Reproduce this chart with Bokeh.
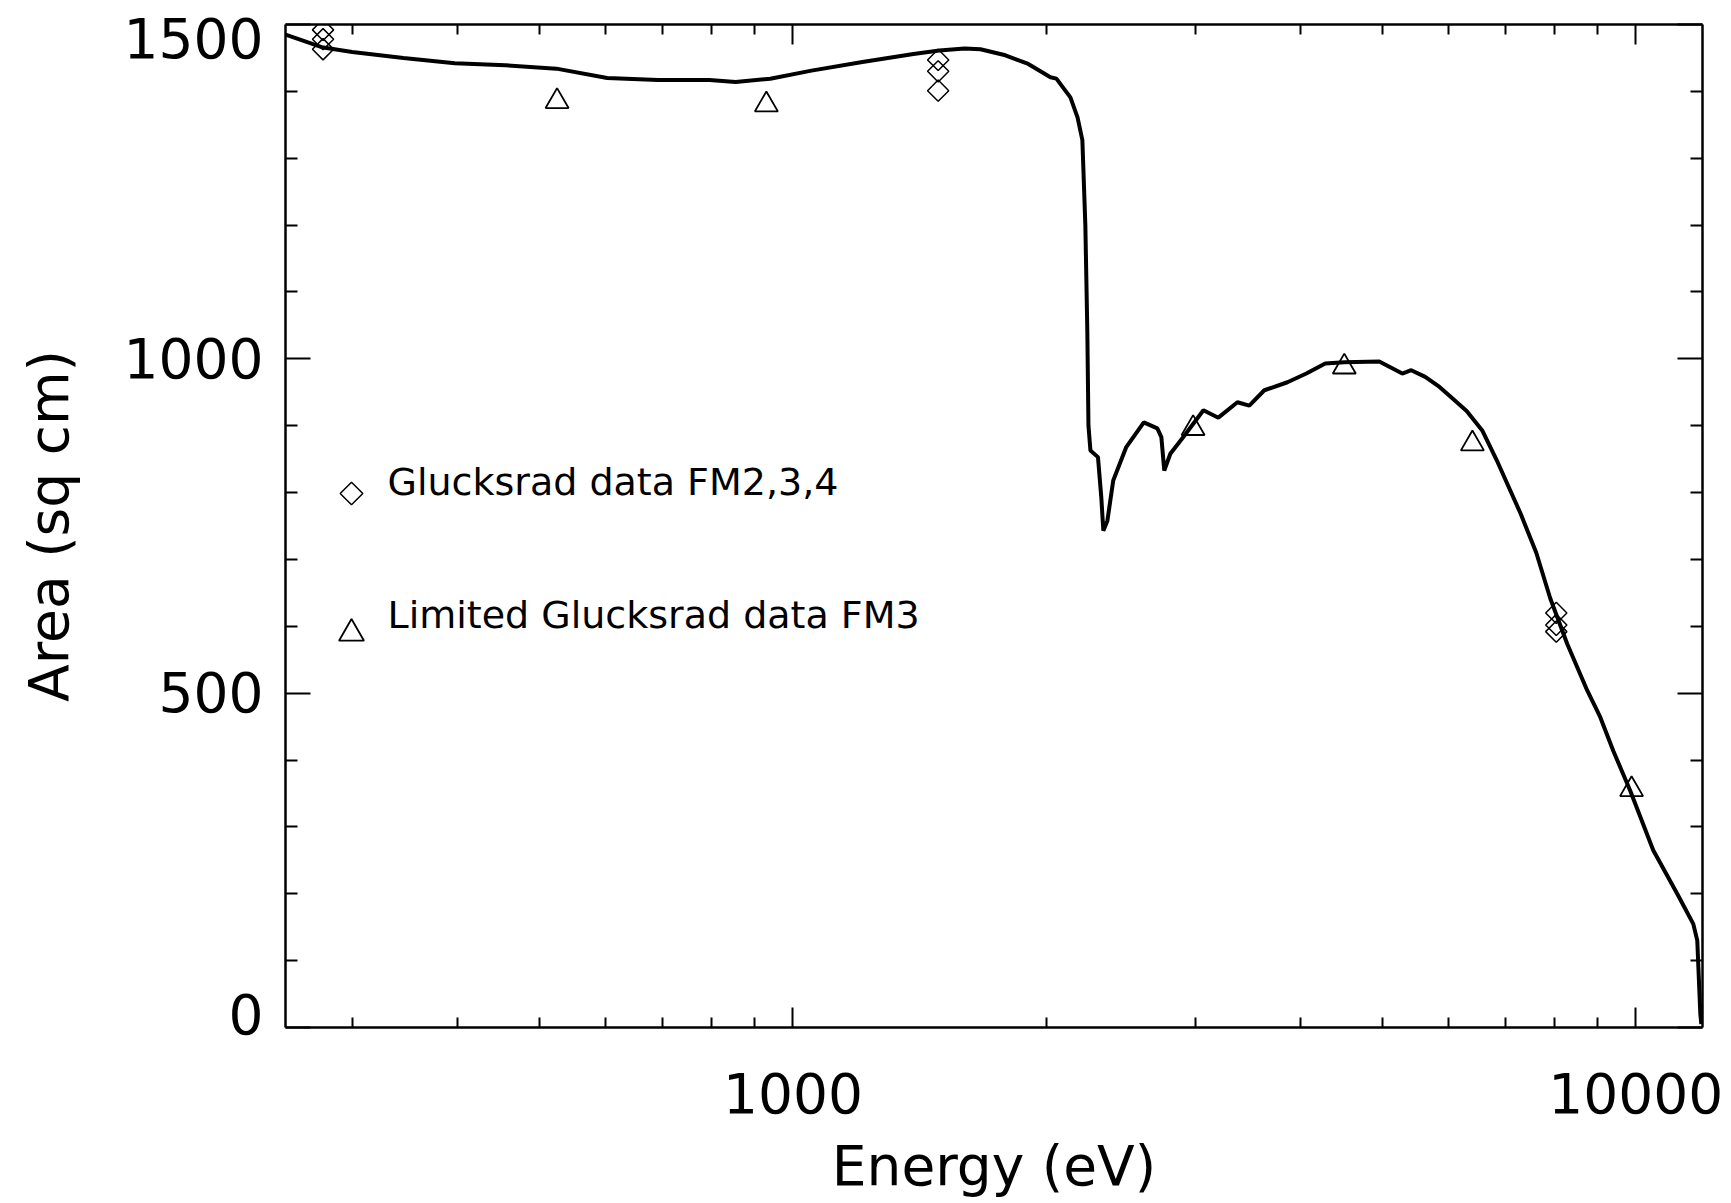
from bokeh.plotting import figure
from bokeh.models import (LinearAxis, LogAxis, FixedTicker, PrintfTickFormatter,
                          CustomJSTickFormatter, Range1d, LinearScale)
from bokeh.core.properties import value
from bokeh.embed import file_html
from bokeh.resources import INLINE

# ---------------- data ----------------
energy = [250, 276, 300, 345, 397, 456, 524, 602, 692, 796, 855, 940, 1052, 1209,
          1390, 1492, 1598, 1669, 1787, 1902, 2021, 2054, 2134, 2176, 2205, 2223,
          2235, 2242, 2254, 2301, 2322, 2335, 2361, 2399, 2486, 2608, 2706, 2736,
          2758, 2804, 2913, 3069, 3197, 3368, 3479, 3625, 3861, 4066, 4281, 4510,
          4962, 5284, 5415, 5626, 5850, 6058, 6300, 6574, 6859, 7304, 7620, 7916,
          8291, 8758, 9076, 9403, 9850, 10489, 11199, 11701, 11830, 11928, 11960]
area = [1485, 1466, 1459, 1450, 1442, 1439, 1434, 1420, 1417, 1417, 1414, 1419,
        1431, 1444, 1456, 1461, 1464, 1463, 1454, 1441, 1421, 1419, 1391, 1361,
        1327, 1200, 1042, 900, 863, 853, 793, 743, 758, 818, 868, 905, 896, 883,
        833, 858, 885, 923, 912, 935, 930, 953, 965, 978, 993, 995, 996, 978, 983,
        973, 958, 941, 922, 893, 845, 768, 710, 642, 574, 504, 464, 414, 354, 265,
        200, 155, 130, 21, 5]

diamond_energy = [277, 277, 277, 1487, 1487, 1487, 8048, 8048, 8048]
diamond_area = [1492, 1478, 1463, 1447, 1430, 1401, 620, 602, 592]

triangle_energy = [525, 930, 2984, 4510, 6400, 9886]
triangle_area = [1385, 1380, 896, 988, 873, 356]

x_major_ticks = [1000, 10000]
x_minor_ticks = [300, 400, 500, 600, 700, 800, 900,
                 2000, 3000, 4000, 5000, 6000, 7000, 8000, 9000]
y_major_ticks = [0, 500, 1000, 1500]
y_minor_ticks = [100, 200, 300, 400, 600, 700, 800, 900,
                 1100, 1200, 1300, 1400]

legend_labels = ["Glucksrad data FM2,3,4", "Limited Glucksrad data FM3"]
x_title = "Energy (eV)"
y_title = "Area (sq cm)"

# ---------------- layout ----------------
W, H = 1731, 1203
BL, BR, BT, BB = 285, 29, 24, 176
FW, FH = W - BL - BR, H - BT - BB
FONT = "DejaVu Sans"

p = figure(width=W, height=H, x_axis_type="log", x_range=(250, 12000),
           y_range=(0, 1500), output_backend="svg", toolbar_location=None,
           min_border_left=BL, min_border_right=BR, min_border_top=BT,
           min_border_bottom=BB, x_axis_label=x_title, y_axis_label=y_title)
p.xgrid.visible = False
p.ygrid.visible = False
p.outline_line_color = None
p.background_fill_color = "white"
p.border_fill_color = "white"

xt = FixedTicker(ticks=x_major_ticks, minor_ticks=x_minor_ticks)
yt = FixedTicker(ticks=y_major_ticks, minor_ticks=y_minor_ticks)
blank = CustomJSTickFormatter(code="return ''")


def style(ax, labels=True):
    ax.axis_line_color = "black"
    ax.axis_line_width = 2.5
    ax.major_tick_line_color = "black"
    ax.minor_tick_line_color = "black"
    ax.major_tick_line_width = 2
    ax.minor_tick_line_width = 2
    ax.major_tick_out = 0
    ax.minor_tick_out = 0
    ax.major_label_text_font = FONT
    ax.major_label_text_color = "black"
    ax.axis_label_text_font = FONT
    ax.axis_label_text_font_style = "normal"
    ax.axis_label_text_color = "black"
    if labels:
        ax.major_label_text_font_size = "55px"
        ax.axis_label_text_font_size = "55px"
    else:
        ax.major_label_text_font_size = "0px"
        ax.major_label_standoff = 0
        ax.formatter = blank


xb = p.xaxis[0]
xb.ticker = xt
xb.formatter = PrintfTickFormatter(format="%d")
style(xb)
xb.major_tick_in = 20
xb.minor_tick_in = 10
xb.major_label_standoff = 45
xb.axis_label_standoff = 18

yl = p.yaxis[0]
yl.ticker = yt
style(yl)
yl.major_tick_in = 25
yl.minor_tick_in = 12
yl.major_label_standoff = 22
yl.axis_label_standoff = 40
# the reference nudges its end labels inward (1500 down, 0 up)
yl.major_label_text_line_height = 0.1
yl.major_label_overrides = {1500: "\n1500", 0: "0\n\n\n\n"}

xtop = LogAxis(ticker=xt)
style(xtop, labels=False)
xtop.major_tick_in = 20
xtop.minor_tick_in = 10
p.add_layout(xtop, "above")

yr = LinearAxis(ticker=yt)
style(yr, labels=False)
yr.major_tick_in = 25
yr.minor_tick_in = 12
p.add_layout(yr, "right")

# ---------------- data marks ----------------
p.line(energy, area, line_color="black", line_width=4)
p.scatter(diamond_energy, diamond_area, marker="square", angle=0.785398,
          size=15, fill_color=None, line_color="black", line_width=1.5)
p.scatter(triangle_energy, triangle_area, marker="triangle", size=23,
          fill_color=None, line_color="black", line_width=1.8)

# ---------------- legend (frame pixel coordinates) ----------------
p.extra_x_ranges = {"px": Range1d(0, FW)}
p.extra_y_ranges = {"px": Range1d(0, FH)}
p.extra_x_scales = {"px": LinearScale()}
p.extra_y_scales = {"px": LinearScale()}

p.scatter([66], [534], marker="square", angle=0.785398, size=16, fill_color=None,
          line_color="black", line_width=1.5, x_range_name="px", y_range_name="px")
p.scatter([66], [394], marker="triangle", size=25, fill_color=None,
          line_color="black", line_width=1.8, x_range_name="px", y_range_name="px")
p.text([102, 102], [546, 413], text=legend_labels, text_font=value(FONT),
       text_font_size=value("38px"), text_color="black", text_align="left",
       text_baseline="alphabetic", x_range_name="px", y_range_name="px")

open("out.html", "w").write(file_html(p, INLINE))
